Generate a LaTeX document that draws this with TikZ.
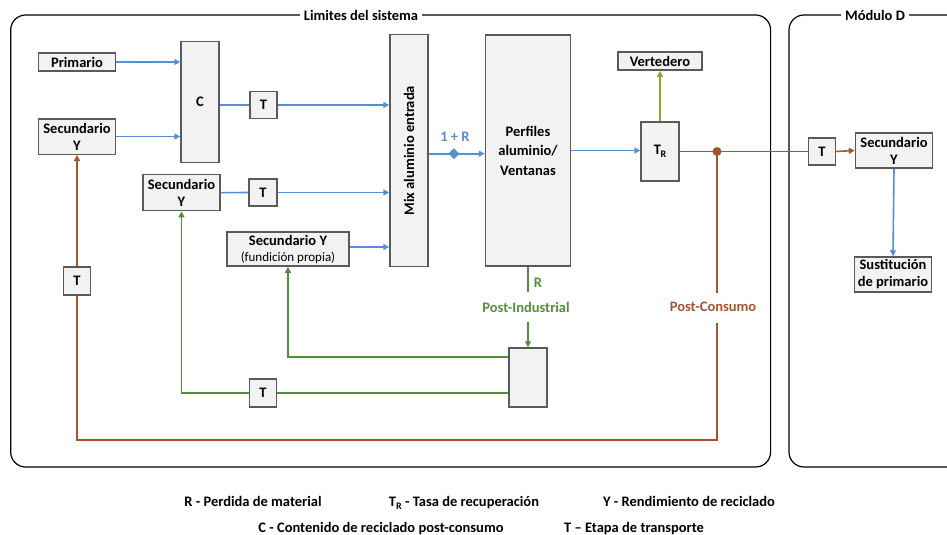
\documentclass[tikz,border=0pt]{standalone}
\usepackage{fontspec}
\setmainfont{Carlito}
\usetikzlibrary{arrows.meta,shapes.geometric}
\definecolor{bl}{RGB}{85,142,213}
\definecolor{br}{RGB}{164,84,46}
\definecolor{gr}{RGB}{82,145,58}
\definecolor{ol}{RGB}{140,170,40}
\definecolor{boxfill}{RGB}{242,242,242}
\definecolor{boxline}{RGB}{90,90,90}
\begin{document}
\begin{tikzpicture}[x=1pt,y=-1pt,
  bx/.style={draw=boxline,fill=boxfill,line width=1.5pt,inner sep=0pt,align=center,
    font=\fontsize{14.5}{17}\selectfont\bfseries},
  frame/.style={draw=black,line width=1.2pt,rounded corners=15pt},
  ttl/.style={fill=white,inner sep=4pt,font=\fontsize{14.5}{17}\selectfont\bfseries},
  lbl/.style={inner sep=1pt,font=\fontsize{14.5}{17}\selectfont\bfseries},
  con/.style={line width=1.6pt},
  tip/.style={-{Triangle[length=6pt,width=6pt]}}
]
\useasboundingbox (0,0) rectangle (947,535);
% frames
\draw[frame] (10.7,15) rectangle (770.6,467);
\begin{scope}
\clip (0,0) rectangle (947,535);
\draw[frame] (789,15) rectangle (1000,467);
\end{scope}
\node[ttl] (tsys) at (361,15.5) {Limites del sistema};
\node[ttl] (tmod) at (875,15.5) {Módulo D};
% boxes
\node[bx,minimum width=77pt,minimum height=18pt] (prim) at (77,62) {Primario};
\node[bx,minimum width=77pt,minimum height=35.5pt] (sec1) at (77,136.5) {Secundario\\Y};
\node[bx,minimum width=38pt,minimum height=121pt] (C) at (200,102) {C};
\node[bx,minimum width=27pt,minimum height=27pt] (t1) at (263.5,105) {T};
\node[bx,minimum width=38pt,minimum height=232pt] (mix) at (409,150.7) {};
\node[rotate=90,font=\fontsize{14.5}{17}\selectfont\bfseries] (mixt) at (mix.center) {Mix aluminio entrada};
\node[bx,minimum width=77pt,minimum height=36pt] (sec2) at (181.5,192.7) {Secundario\\Y};
\node[bx,minimum width=28pt,minimum height=27pt] (t2) at (263,192.5) {T};
\node[bx,minimum width=122pt,minimum height=34pt] (sec3) at (288,249) {Secundario Y\\[-1pt]{\mdseries\fontsize{13}{15}\selectfont(fundición propia)}};
\node[bx,minimum width=85pt,minimum height=231pt,font=\fontsize{14.5}{19.5}\selectfont\bfseries] (perf) at (528,150.5) {Perfiles\\aluminio/\\Ventanas};
\node[bx,minimum width=38pt,minimum height=59pt] (tr) at (660,151.5) {T\kern-0.3pt\raisebox{-2.5pt}{\fontsize{10}{10}\selectfont R}};
\node[bx,minimum width=84pt,minimum height=18pt] (vert) at (660,61) {Vertedero};
\node[bx,minimum width=27pt,minimum height=28pt] (tl) at (77,281) {T};
\node[bx,minimum width=27pt,minimum height=28pt] (tb) at (263,393) {T};
\node[bx,minimum width=38pt,minimum height=59pt] (pib) at (528,377.5) {};
\node[bx,minimum width=27pt,minimum height=27pt] (tD) at (822,151.5) {T};
\node[bx,minimum width=77pt,minimum height=35pt] (secD) at (894,150.5) {Secundario\\Y};
\node[bx,minimum width=77pt,minimum height=35pt] (sust) at (893,274.5) {Sustitución\\de primario};
% blue connectors
\draw[con,bl,tip] (prim.east) -- (prim.east -| C.west);
\draw[con,bl,tip] (sec1.east) -- (sec1.east -| C.west);
\draw[con,bl] (t1.west -| C.east) -- (t1.west);
\draw[con,bl,tip] (t1.east) -- (t1.east -| mix.west);
\draw[con,bl] (sec2.east) -- (t2.west);
\draw[con,bl,tip] (t2.east) -- (t2.east -| mix.west);
\draw[con,bl,tip] ([yshift=2pt]sec3.east) -- ([yshift=2pt]sec3.east -| mix.west);
\draw[con,bl,tip] ([yshift=-3pt]mix.east) -- ([yshift=-3pt]mix.east -| perf.west)
  coordinate[pos=0.45] (dia);
\node[diamond,fill=bl,inner sep=0pt,minimum width=11pt,minimum height=11pt] (dmd) at (dia) {};
\node[lbl,text=bl] (onr) at (455,137) {1 + R};
\draw[con,bl,tip] (perf.east) -- (perf.east -| tr.west);
\draw[con,bl,tip] (secD.south) -- (sust.north);
% olive
\draw[con,ol,tip] (tr.north) -- (vert.south);
% brown
\coordinate (dot) at (717,151.5);
\draw[con,br] (tr.east) -- (tD.west);
\draw[con,br,tip] (tD.east) -- (secD.west);
\fill[br] (dot) circle (4.5pt);
\node[lbl,text=br] (pc) at (713,307) {Post-Consumo};
\draw[con,br] (dot) -- (717,293);
\draw[con,br] (717,323) -- (717,440) -- (tl.south |- 0,440) -- (tl.south);
\draw[con,br,tip] (tl.north) -- (sec1.south);
% green
\node[lbl,text=gr] (rl) at (538,283) {R};
\node[lbl,text=gr] (pi) at (526,307) {Post-Industrial};
\draw[con,gr] (perf.south) -- (528,292);
\draw[con,gr,tip] (528,322) -- (pib.north);
\draw[con,gr,tip] (pib.west |- 0,357) -- (sec3.south |- 0,357) -- (sec3.south);
\draw[con,gr] (pib.west |- tb.east) -- (tb.east);
\draw[con,gr,tip] (tb.west) -- (sec2.south |- tb.west) -- (sec2.south);
% legend
\node[lbl,anchor=base] (l1) at (253,506.5) {R - Perdida de material};
\node[lbl,anchor=base] (l2) at (464,506.5) {T\raisebox{-2.5pt}{\fontsize{10}{10}\selectfont R} - Tasa de recuperación};
\node[lbl,anchor=base] (l3) at (689,506.5) {Y - Rendimiento de reciclado};
\node[lbl,anchor=base] (l4) at (381,532) {C - Contenido de reciclado post-consumo};
\node[lbl,anchor=base] (l5) at (634,532) {T – Etapa de transporte};
\end{tikzpicture}
\end{document}
